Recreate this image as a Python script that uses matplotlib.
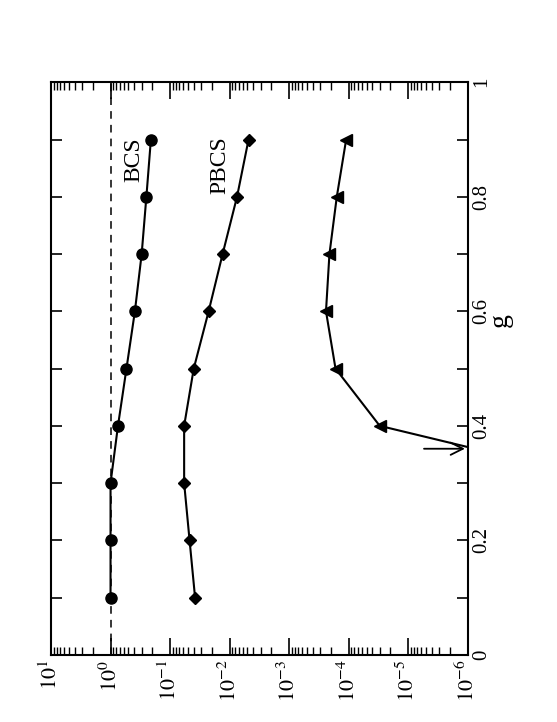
import numpy as np
import matplotlib
matplotlib.use('Agg')
import matplotlib.pyplot as plt
from matplotlib.ticker import MultipleLocator, LogLocator, NullFormatter

plt.rcParams['font.family'] = ['Liberation Serif', 'DejaVu Serif']
plt.rcParams['mathtext.fontset'] = 'stix'

g = [0.1, 0.2, 0.3, 0.4, 0.5, 0.6, 0.7, 0.8, 0.9]
bcs = [1.0, 1.0, 1.0, 0.75, 0.54, 0.39, 0.30, 0.25, 0.21]
pbcs = [0.038, 0.047, 0.058, 0.058, 0.040, 0.0225, 0.0131, 0.0075, 0.0048]
g3 = [0.4, 0.5, 0.6, 0.7, 0.8, 0.9]
third = [3.0e-5, 1.66e-4, 2.4e-4, 2.1e-4, 1.58e-4, 1.1e-4]
g_cross = 0.363  # where the third curve leaves the frame
g_ticks = [0, 0.2, 0.4, 0.6, 0.8, 1.0]
g_labels = ['0', '0.2', '0.4', '0.6', '0.8', '1']

fig = plt.figure(figsize=(5.57, 7.22), dpi=100)
ax = fig.add_axes([0.0916, 0.093, 0.748, 0.793])

ax.axvline(1.0, color='k', ls='--', lw=1.1, dashes=(5, 4))
ax.plot(bcs, g, 'k-', marker='o', ms=8, lw=1.5)
ax.plot(pbcs, g, 'k-', marker='D', ms=6, lw=1.5)
ax.plot(third, g3, 'k-', marker='<', ms=8, lw=1.5)
ax.plot([third[0], 1e-6], [g3[0], g_cross], 'k-', lw=1.5)
ax.annotate('', xy=(1e-6, 0.36), xytext=(10**-5.22, 0.36),
            arrowprops=dict(arrowstyle='->', color='k', lw=1.3, mutation_scale=22))

ax.text(10**-0.39, 0.865, 'BCS', rotation=90, fontsize=17, ha='center', va='center')
ax.text(10**-1.83, 0.855, 'PBCS', rotation=90, fontsize=17, ha='center', va='center')

ax.set_xscale('log')
ax.set_xlim(10, 1e-6)
ax.set_ylim(0, 1)
ax.set_xticks([10.0**k for k in range(1, -7, -1)])
ax.set_xticklabels([r'$10^{%d}$' % k for k in range(1, -7, -1)], rotation=90, fontsize=16)
ax.xaxis.set_minor_locator(LogLocator(base=10, subs=np.arange(2, 10), numticks=20))
ax.xaxis.set_minor_formatter(NullFormatter())

ax.yaxis.tick_right()
ax.set_yticks(g_ticks)
ax.set_yticklabels(g_labels, rotation=90, va='center', fontsize=15)
ax.yaxis.set_minor_locator(MultipleLocator(0.1))

ax.tick_params(which='both', direction='in', top=True, bottom=True, left=True, right=True)
ax.tick_params(axis='x', which='major', length=12, width=1.2)
ax.tick_params(axis='x', which='minor', length=6, width=1)
ax.tick_params(axis='y', which='both', length=8, width=1.2, pad=3)
for s in ax.spines.values():
    s.set_linewidth(1.5)

fig.text(0.898, 0.557, 'g', rotation=90, fontsize=20, ha='center', va='center')
fig.text(0.43, 0.006, r'$\Delta E/E$', rotation=180, fontsize=22, ha='center', va='top')

fig.savefig('out.png', dpi=100)
